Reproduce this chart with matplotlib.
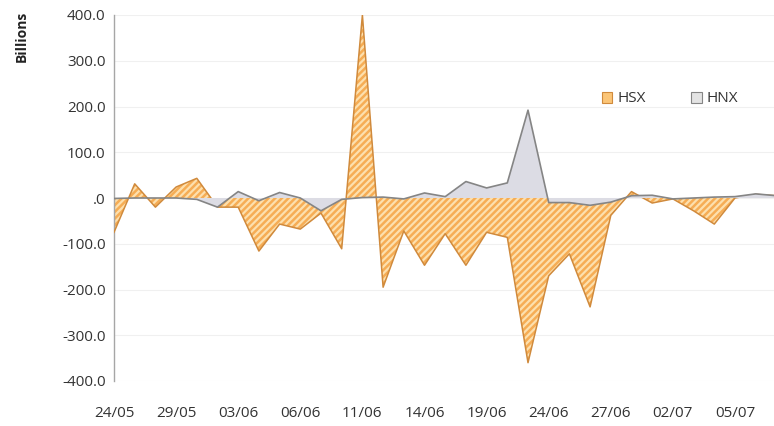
import matplotlib
matplotlib.use('Agg')
import matplotlib.pyplot as plt
from matplotlib.patches import Patch
import numpy as np

plt.rcParams['font.family'] = ['Open Sans', 'DejaVu Sans']

dates = ['24/05', '27/05', '28/05', '29/05', '30/05', '31/05', '03/06', '04/06',
         '05/06', '06/06', '07/06', '10/06', '11/06', '12/06', '13/06', '14/06',
         '17/06', '18/06', '19/06', '20/06', '21/06', '24/06', '25/06', '26/06',
         '27/06', '28/06', '01/07', '02/07', '03/07', '04/07', '05/07', '08/07', '09/07']

hsx = [-75, 31, -20, 24, 43, -20, -20, -116, -57, -68, -33, -111, 400, -195,
       -72, -147, -78, -147, -75, -86, -360, -170, -122, -238, -38, 14, -11,
       -2, -28, -57, 0, 8, 5]

hnx = [-1, 0, 0, 0, -3, -20, 14, -6, 12, 0, -28, -3, 1, 2, -2, 11, 3, 36,
       22, 33, 192, -10, -10, -16, -9, 5, 6, -2, 0, 2, 3, 9, 5]

yticks = [-400, -300, -200, -100, 0, 100, 200, 300, 400]

x = np.arange(len(dates))

fig = plt.figure(figsize=(7.74, 4.26), dpi=100)
ax = fig.add_axes([114/774., 1 - 381/426., 1 - 114/774., (381 - 15)/426.])

# HSX hatched area
plt.rcParams['hatch.linewidth'] = 1.8
ax.fill_between(x, hsx, 0, facecolor='#fde0ae', edgecolor='#f6ad55', hatch='/////', linewidth=0, zorder=2)
ax.plot(x, hsx, color='#d08a3c', lw=1.1, zorder=3)

# HNX grey area on top
ax.fill_between(x, hnx, 0, facecolor='#dcdce4', edgecolor='none', zorder=4)
ax.plot(x, hnx, color='#858585', lw=1.2, zorder=5)

ax.set_xlim(0, (774 - 114) / 20.7)
ax.set_ylim(-400, 400)
ax.set_yticks(yticks)
ax.set_yticklabels(['%.1f' % v if v != 0 else '.0' for v in yticks])
ax.set_xticks(x[::3])
ax.set_xticklabels(dates[::3])
ax.tick_params(axis='both', length=0, labelsize=11, colors='#333333')
ax.tick_params(axis='y', pad=6)
ax.tick_params(axis='x', pad=18)
ax.grid(axis='y', color='#f0f0f0', lw=0.8, zorder=0)

for s in ['top', 'right', 'bottom']:
    ax.spines[s].set_visible(False)
ax.spines['left'].set_color('#a6a6a6')
ax.spines['left'].set_linewidth(1.0)

fig.text(22/774., 1 - 36/426., 'Billions', rotation=90, fontsize=10, fontweight='bold',
         ha='center', va='center', color='#222222')

handles = [Patch(facecolor='#fbc577', edgecolor='#d08a3c', lw=0.8, label='HSX'),
           Patch(facecolor='#e3e3e3', edgecolor='#858585', lw=0.8, label='HNX')]
fig.legend(handles=handles, loc='center left', bbox_to_anchor=(588/774., 1 - 99/426.),
           ncol=2, frameon=False, fontsize=11, handlelength=0.7, handleheight=0.7,
           handletextpad=0.3, columnspacing=3.0, labelcolor='#333333')

fig.savefig('out.png', dpi=100, facecolor='w')
